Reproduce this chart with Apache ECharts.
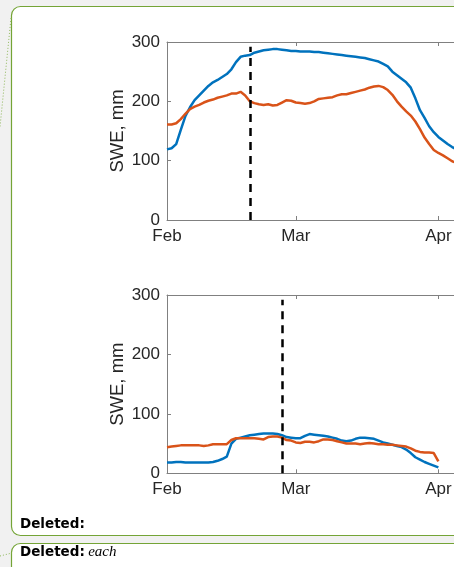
<!DOCTYPE html>
<html>
<head>
<meta charset="utf-8">
<script src="https://cdn.jsdelivr.net/npm/echarts@6/dist/echarts.min.js"></script>
<style>
html,body{margin:0;padding:0;background:#f1f1f1;}
#chart{width:454px;height:567px;}
</style>
</head>
<body>
<div id="chart"></div>
<script>
// Day index 0 = Feb 1
var monthTicks = [0, 28, 59];
var monthLabels = ['Feb', 'Mar', 'Apr'];
var yTicks = [0, 100, 200, 300];
var xMax = 62.4; // visible part of the window

// Top panel (days 0..63)
var topBlue = [119,121,128,152,175,190,202,210,218,226,232,236,241,246,254,266,275,277,278,282,
  284,286,287,288,288,287,286,285,285,284,284,284,283,283,282,281,280,279,278,277,
  276,275,274,273,271,269,267,263,259,250,244,238,232,223,205,185,172,158,148,140,
  134,128,123,119];
var topOrange = [161,161,163,170,179,187,191,194,198,201,203,206,208,210,213,213,216,210,200,197,
  195,194,195,193,194,198,202,201,198,197,196,197,200,204,205,206,207,210,212,212,
  214,216,218,220,223,225,226,224,219,211,200,191,183,176,166,153,139,128,118,113,
  109,104,99,96];
var topEventDay = 18;

// Bottom panel (days 0..59)
var botBlue = [18,18,19,19,18,18,18,18,18,18,19,21,24,28,50,58,60,62,64,65,
  66,67,67,67,66,64,61,60,59,59,63,66,65,64,63,62,60,58,55,54,
  55,58,60,60,59,58,55,52,50,48,46,44,40,34,27,23,19,16,13,10];
var botOrange = [44,45,46,47,47,47,47,47,46,47,49,49,49,49,56,59,59,59,59,59,
  58,57,61,62,62,60,56,55,52,51,53,53,52,54,57,57,56,54,52,50,
  50,50,49,50,51,50,49,49,48,48,47,46,45,42,38,36,35,35,34,20];
var botEventDay = 25;
var eventTop = 292;

function pairs(arr){ return arr.map(function(v,i){ return [i, v]; }); }

var FONT = 'Liberation Sans';
var TXT = '#262626';
var AX = '#808080';

function xBottom(gi){
  return {
    gridIndex: gi, type: 'value', min: 0, max: xMax, position: 'bottom',
    axisLine: {show: true, onZero: false, lineStyle: {color: AX, width: 1}},
    axisTick: {show: true, inside: true, length: 4, customValues: monthTicks, lineStyle: {color: AX}},
    axisLabel: {show: true, customValues: monthTicks, margin: 8, fontFamily: FONT, fontSize: 17, color: TXT,
      showMaxLabel: true, hideOverlap: false,
      formatter: function(v){ var k = monthTicks.indexOf(v); return k >= 0 ? monthLabels[k] : ''; }},
    splitLine: {show: false}
  };
}
function xTop(gi){
  return {
    gridIndex: gi, type: 'value', min: 0, max: xMax, position: 'top',
    axisLine: {show: true, onZero: false, lineStyle: {color: AX, width: 1}},
    axisTick: {show: true, inside: true, length: 4, customValues: monthTicks, lineStyle: {color: AX}},
    axisLabel: {show: false},
    splitLine: {show: false}
  };
}
function yLeft(gi){
  return {
    gridIndex: gi, type: 'value', min: 0, max: 300, interval: 100,
    name: 'SWE, mm', nameLocation: 'middle', nameGap: 40, nameMoveOverlap: false,
    nameTextStyle: {fontFamily: FONT, fontSize: 18.5, color: TXT},
    axisLine: {show: true, onZero: false, lineStyle: {color: AX, width: 1}},
    axisTick: {show: true, inside: true, length: 4, lineStyle: {color: AX}},
    axisLabel: {show: true, margin: 7, fontFamily: FONT, fontSize: 17, color: TXT},
    splitLine: {show: false}
  };
}
function lineSeries(xi, yi, arr, color){
  return {
    type: 'line', xAxisIndex: xi, yAxisIndex: yi, data: pairs(arr),
    showSymbol: false, symbol: 'none', smooth: false, z: 3, clip: true,
    lineStyle: {color: color, width: 2.5}, itemStyle: {color: color}
  };
}
function eventLine(xi, yi, day){
  return {
    type: 'line', xAxisIndex: xi, yAxisIndex: yi, data: [], z: 5,
    markLine: {
      silent: true, symbol: ['none','none'], animation: false,
      label: {show: false},
      lineStyle: {color: '#000', width: 2.5, type: [8, 6]},
      data: [[{coord: [day, 0]}, {coord: [day, eventTop]}]]
    }
  };
}

var chart = echarts.init(document.getElementById('chart'), null, {renderer: 'canvas'});
chart.setOption({
  animation: false,
  backgroundColor: '#f1f1f1',
  grid: [
    {left: 167, top: 42, right: 0, height: 178, containLabel: false, outerBoundsMode: 'none'},
    {left: 167, top: 295, right: 0, height: 178.3, containLabel: false, outerBoundsMode: 'none'}
  ],
  xAxis: [xBottom(0), xTop(0), xBottom(1), xTop(1)],
  yAxis: [yLeft(0), yLeft(1)],
  series: [
    lineSeries(0, 0, topBlue, '#0072BD'),
    lineSeries(0, 0, topOrange, '#D95319'),
    eventLine(0, 0, topEventDay),
    lineSeries(2, 1, botBlue, '#0072BD'),
    lineSeries(2, 1, botOrange, '#D95319'),
    eventLine(2, 1, botEventDay)
  ],
  graphic: {
    elements: [
      {type: 'rect', z: -10, silent: true,
        shape: {x: 11.5, y: 6.5, width: 470, height: 529, r: 9},
        style: {fill: '#ffffff', stroke: '#74a436', lineWidth: 1.2}},
      {type: 'rect', z: -10, silent: true,
        shape: {x: 11.5, y: 543.5, width: 470, height: 60, r: 9},
        style: {fill: '#ffffff', stroke: '#74a436', lineWidth: 1.2}},
      {type: 'polyline', z: -9, silent: true,
        shape: {points: [[11, 18], [0, 127]]},
        style: {stroke: '#8fb85a', lineWidth: 1, lineDash: [1, 2], fill: null}},
      {type: 'polyline', z: -9, silent: true,
        shape: {points: [[0, 556], [12, 553]]},
        style: {stroke: '#8fb85a', lineWidth: 1, lineDash: [1, 2], fill: null}},
      {type: 'text', z: -8, silent: true, x: 20, y: 517,
        style: {text: 'Deleted:', font: 'bold 13.5px "DejaVu Sans"', fill: '#000', verticalAlign: 'top'}},
      {type: 'text', z: -8, silent: true, x: 20, y: 545,
        style: {
          text: '{b|Deleted:} {i|each}', verticalAlign: 'top',
          rich: {
            b: {fontFamily: 'DejaVu Sans', fontWeight: 'bold', fontSize: 13.5, fill: '#000', color: '#000'},
            i: {fontFamily: 'Liberation Serif', fontStyle: 'italic', fontSize: 15, fill: '#000', color: '#000'}
          }
        }}
    ]
  }
});
</script>
</body>
</html>
